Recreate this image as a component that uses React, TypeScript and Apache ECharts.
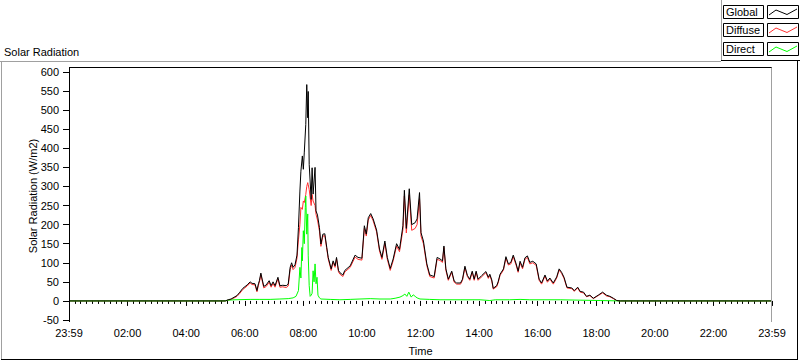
import React, { useEffect, useRef } from "react";
import * as echarts from "echarts";

// minutes since the start of the day (0 = 23:59 label, 1440 = 23:59 label)
const globalTimes = [
  0, 320, 326, 332, 340, 344, 350, 356, 365, 371,
  375, 381, 385, 388, 390, 393, 396, 399, 404, 410,
  414, 418, 422, 428, 432, 438, 445, 449, 453, 456,
  459, 463, 467, 470, 473, 475, 478, 480, 482, 485,
  487, 489, 490, 492, 496, 498, 500, 504, 506, 509,
  513, 516, 520, 524, 528, 531, 537, 541, 545, 548,
  552, 555, 561, 565, 576, 586, 592, 600, 605, 609,
  613, 618, 623, 630, 636, 641, 647, 652, 658, 664,
  671, 677, 684, 687, 691, 697, 702, 709, 713, 718,
  721, 726, 733, 739, 748, 754, 760, 765, 768, 772,
  777, 784, 789, 794, 802, 806, 811, 816, 821, 826,
  830, 834, 838, 845, 854, 859, 862, 866, 869, 876,
  879, 883, 890, 895, 900, 905, 910, 916, 920, 924,
  929, 934, 939, 944, 950, 957, 963, 968, 975, 980,
  985, 992, 999, 1004, 1009, 1014, 1020, 1030, 1035, 1042,
  1047, 1054, 1060, 1067, 1074, 1084, 1093, 1101, 1108, 1115,
  1122, 1129, 1440,
];

const globalValues = [
  0, 0, 3, 5, 11, 14, 23, 33, 42, 50,
  46, 45, 27, 45, 53, 73, 55, 38, 42, 53,
  40, 50, 40, 62, 40, 41, 40, 44, 88, 100,
  88, 95, 120, 192, 288, 340, 380, 345, 390, 462,
  567, 480, 549, 358, 266, 349, 280, 350, 236, 225,
  192, 149, 175, 176, 140, 114, 84, 105, 92, 114,
  80, 74, 68, 80, 92, 120, 114, 112, 197, 175,
  218, 229, 215, 186, 136, 114, 157, 114, 85, 110,
  150, 135, 197, 290, 190, 294, 200, 205, 215, 284,
  179, 157, 97, 68, 64, 114, 110, 105, 144, 84,
  57, 78, 52, 47, 47, 57, 91, 67, 57, 78,
  57, 78, 57, 66, 77, 62, 70, 55, 33, 40,
  50, 70, 84, 116, 97, 101, 120, 97, 78, 104,
  88, 113, 118, 101, 104, 97, 57, 47, 68, 52,
  60, 47, 63, 84, 75, 62, 36, 34, 27, 36,
  25, 23, 12, 15, 7, 15, 23, 15, 12, 7,
  1, 0, 0,
];

const diffuseValues = [
  0, 0, 2, 4, 9, 12, 20, 30, 39, 47,
  43, 42, 24, 41, 49, 69, 51, 34, 38, 49,
  36, 46, 36, 58, 36, 37, 35, 39, 82, 94,
  82, 88, 112, 160, 200, 245, 240, 262, 258, 279,
  300, 310, 305, 292, 250, 279, 262, 250, 227, 212,
  183, 143, 170, 171, 136, 110, 80, 101, 88, 110,
  76, 70, 64, 76, 88, 115, 109, 107, 190, 170,
  212, 224, 210, 181, 131, 109, 151, 109, 80, 105,
  144, 129, 187, 275, 178, 278, 185, 190, 200, 268,
  170, 150, 92, 64, 60, 109, 106, 101, 140, 80,
  54, 75, 49, 44, 44, 54, 87, 64, 54, 75,
  54, 75, 54, 63, 74, 59, 67, 52, 31, 37,
  47, 67, 81, 112, 94, 97, 116, 93, 75, 100,
  84, 109, 114, 97, 100, 93, 54, 44, 65, 49,
  57, 44, 60, 81, 72, 59, 34, 32, 25, 34,
  23, 21, 11, 14, 6, 14, 21, 13, 11, 6,
  1, 0, 0,
];

const directTimes = [
  0, 320, 326, 340, 371, 391, 412, 432, 449, 459,
  465, 470, 473, 475, 477, 478, 480, 482, 484, 485,
  487, 489, 490, 492, 494, 496, 498, 500, 502, 504,
  506, 508, 510, 513, 516, 535, 555, 576, 596, 617,
  637, 658, 668, 678, 684, 688, 692, 696, 701, 705,
  709, 713, 719, 739, 760, 801, 842, 862, 873, 903,
  924, 944, 1006, 1047, 1088, 1129, 1440,
];

const directValues = [
  0, 0, 2, 3, 4, 4, 4, 5, 6, 8,
  12, 27, 88, 60, 140, 105, 184, 150, 245, 275,
  175, 228, 120, 40, 12, 15, 20, 79, 50, 97,
  45, 62, 15, 8, 5, 4, 3, 4, 5, 6,
  5, 5, 7, 10, 14, 18, 12, 23, 10, 16,
  12, 8, 5, 4, 3, 3, 3, 1, 3, 3,
  4, 3, 3, 2, 1, 0, 0,
];

const xTickLabels = [
  "23:59", "02:00", "04:00", "06:00", "08:00", "10:00", "12:00",
  "14:00", "16:00", "18:00", "20:00", "22:00", "23:59",
];

const seriesNames = ["Global", "Diffuse", "Direct"];
const seriesColors = ["#000000", "#ff3030", "#00ff00"];

const FONT = '"Liberation Sans", Arial, sans-serif';

export default function App() {
  const ref = useRef<HTMLDivElement>(null);

  useEffect(() => {
    if (!ref.current) return;
    const chart = echarts.init(ref.current, null, { renderer: "svg" });
    const pairs = (t: number[], v: number[]) => t.map((x, i) => [x, v[i]]);

    const line = (x1: number, y1: number, x2: number, y2: number, color: string) => ({
      type: "line",
      silent: true,
      z: 100,
      shape: { x1, y1, x2, y2 },
      style: { stroke: color, lineWidth: 1 },
    });

    const graphic: any[] = [
      {
        type: "text",
        x: 4,
        y: 52,
        silent: true,
        style: { text: "Solar Radiation", fontSize: 11, fontFamily: FONT, fill: "#000", verticalAlign: "middle" },
      },
      // outer frame
      line(0, 61.5, 721, 61.5, "#a0a0a0"),
      line(1.5, 61, 1.5, 360, "#a0a0a0"),
      line(1, 359.5, 798, 359.5, "#000000"),
      line(797.5, 61, 797.5, 360, "#000000"),
      // legend frame
      line(721.5, 0, 721.5, 61, "#a0a0a0"),
      line(721, 60.5, 800, 60.5, "#000000"),
      // plot frame
      line(69.5, 322, 69.5, 67.5, "#000000"),
      line(69, 67.5, 772, 67.5, "#000000"),
      line(771.5, 67.5, 771.5, 322, "#a0a0a0"),
    ];

    const rowY = [5, 23, 42];
    seriesNames.forEach((name, i) => {
      const y0 = rowY[i];
      graphic.push({
        type: "rect",
        silent: true,
        z: 100,
        shape: { x: 723.5, y: y0 + 0.5, width: 40, height: 13 },
        style: { fill: "#fff", stroke: "#000", lineWidth: 1 },
      });
      graphic.push({
        type: "text",
        silent: true,
        z: 101,
        x: 726,
        y: y0 + 7,
        style: { text: name, fontSize: 11, fontFamily: FONT, fill: "#000", verticalAlign: "middle" },
      });
      graphic.push({
        type: "rect",
        silent: true,
        z: 100,
        shape: { x: 767.5, y: y0 + 0.5, width: 31, height: 13 },
        style: { fill: "#fff", stroke: "#000", lineWidth: 1 },
      });
      graphic.push({
        type: "polyline",
        silent: true,
        z: 101,
        shape: {
          points: [
            [769, y0 + 10],
            [776, y0 + 5],
            [787, y0 + 9.5],
            [797, y0 + 4],
          ],
        },
        style: { stroke: seriesColors[i], lineWidth: 1, fill: "none" },
      });
    });

    const axisFont = { color: "#000", fontSize: 11, fontFamily: FONT };

    chart.setOption({
      animation: false,
      backgroundColor: "#ffffff",
      grid: { left: 69, right: 28, top: 72, bottom: 40, containLabel: false },
      xAxis: {
        type: "value",
        min: 0,
        max: 1440,
        interval: 120,
        offset: 2,
        name: "Time",
        nameLocation: "middle",
        nameGap: 23,
        nameMoveOverlap: false,
        nameTextStyle: axisFont,
        axisLine: { show: false },
        axisTick: { show: true, length: 5, lineStyle: { color: "#000" } },
        minorTick: { show: true, splitNumber: 10, length: 3, lineStyle: { color: "#000" } },
        axisLabel: {
          ...axisFont,
          margin: 5,
          showMinLabel: true,
          showMaxLabel: true,
          formatter: (v: number) => xTickLabels[Math.round(v / 120)] ?? "",
        },
        splitLine: { show: false },
      },
      yAxis: {
        type: "value",
        min: -50,
        max: 600,
        interval: 50,
        name: "Solar Radiation (W/m2)",
        nameLocation: "middle",
        nameGap: 31,
        nameMoveOverlap: false,
        nameTextStyle: axisFont,
        axisLine: { show: false },
        axisTick: { show: true, length: 6, lineStyle: { color: "#000" } },
        axisLabel: { ...axisFont, margin: 10 },
        splitLine: { show: false },
      },
      graphic,
      series: [
        {
          name: "Diffuse",
          type: "line",
          symbol: "none",
          data: pairs(globalTimes, diffuseValues),
          lineStyle: { color: seriesColors[1], width: 1 },
        },
        {
          name: "Direct",
          type: "line",
          symbol: "none",
          data: pairs(directTimes, directValues),
          lineStyle: { color: seriesColors[2], width: 1 },
        },
        {
          name: "Global",
          type: "line",
          symbol: "none",
          data: pairs(globalTimes, globalValues),
          lineStyle: { color: seriesColors[0], width: 1 },
        },
      ],
    });

    return () => chart.dispose();
  }, []);

  return (
    <div
      ref={ref}
      style={{ position: "fixed", left: 0, top: 0, width: 800, height: 361, background: "#fff" }}
    />
  );
}
